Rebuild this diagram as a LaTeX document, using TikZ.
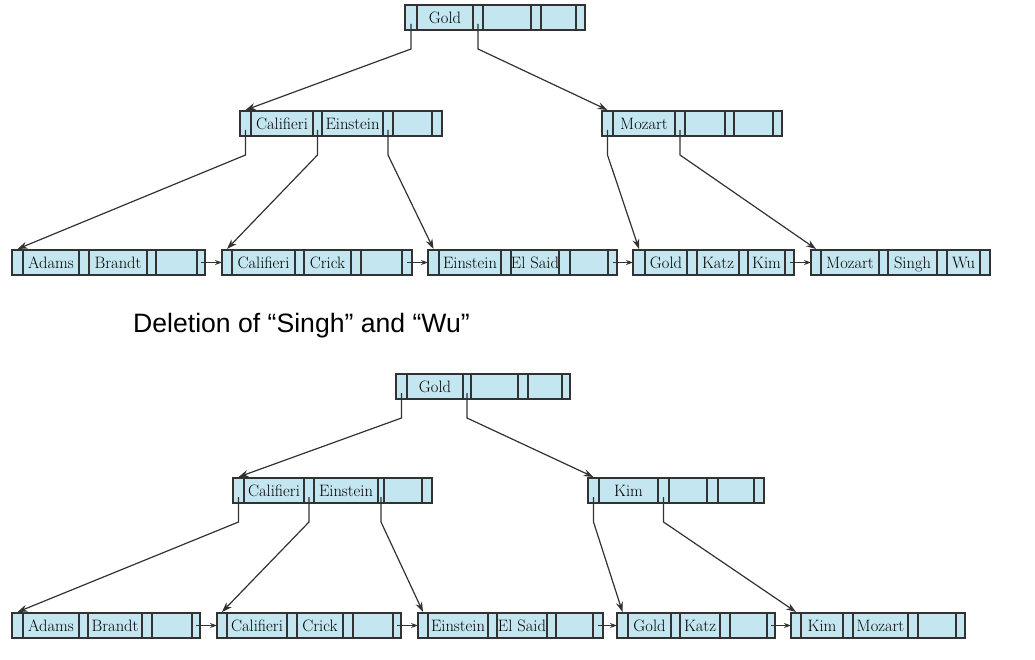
\documentclass[tikz,border=0pt]{standalone}
\usepackage{fontspec}
\newfontfamily\labelsans{Liberation Sans}
\usetikzlibrary{arrows.meta}
\definecolor{cellblue}{RGB}{196,230,240}
\definecolor{edgegray}{RGB}{50,50,50}
\tikzset{
  cell/.style={draw=edgegray, fill=cellblue, line width=1.2pt, minimum height=25pt,
    inner sep=0pt, outer sep=0pt, text height=12.5pt, text depth=1pt,
    font=\fontsize{16.5}{19}\selectfont},
  treeptr/.style={draw=edgegray, line width=1.2pt, -{Stealth[length=10pt,width=7pt]}},
  chainptr/.style={draw=edgegray, line width=1.1pt, -{Stealth[length=7pt,width=5pt]}},
}
\newcommand\bnode[3]{%
  \foreach \w/\t [count=\i] in {#3} {%
    \ifnum\i=1
      \node[cell, minimum width=\w pt, anchor=north west] (#1-\i) at (#2) {\makebox[0pt]{\t}};
    \else
      \pgfmathtruncatemacro\j{\i-1}%
      \node[cell, minimum width=\w pt, anchor=west] (#1-\i) at (#1-\j.east) {\makebox[0pt]{\t}};
    \fi
  }}
\newcommand\tptr[2]{\draw[treeptr] ([yshift=6pt]#1.south) -- ([yshift=-19pt]#1.south) -- ([yshift=1pt]#2.north);}
\newcommand\cptr[2]{\draw[chainptr] (#1.center) -- (#2.west);}
\begin{document}
\begin{tikzpicture}[x=1pt,y=-1pt]
\useasboundingbox (0,0) rectangle (1035,660);
% ---------- top tree ----------
\bnode{tr}{405,5}{12/{},56/Gold,10/{},48/{},10/{},35/{},9/{}}
\bnode{ta}{240,111}{11/{},62/Califieri,9/{},61/Einstein,10/{},39/{},10/{}}
\bnode{tb}{602,111}{11/{},62/Mozart,10/{},40/{},9/{},39/{},9/{}}
\bnode{la}{12,250}{11/{},56/Adams,10/{},58/Brandt,9/{},41/{},8/{}}
\bnode{lb}{222,250}{10/{},63/Califieri,9/{},47/Crick,10/{},41/{},10/{}}
\bnode{lc}{428,250}{11/{},62/Einstein,10/{},48/El Said,11/{},38/{},9/{}}
\bnode{ld}{633,250}{12/{},42/Gold,10/{},42/Katz,9/{},37/Kim,9/{}}
\bnode{le}{811,250}{10/{},58/Mozart,9/{},49/Singh,10/{},33/Wu,10/{}}
\tptr{tr-1}{ta-1}
\tptr{tr-3}{tb-1}
\tptr{ta-1}{la-1}
\tptr{ta-3}{lb-1}
\tptr{ta-5}{lc-1}
\tptr{tb-1}{ld-1}
\tptr{tb-3}{le-1}
\cptr{la-7}{lb-1}
\cptr{lb-7}{lc-1}
\cptr{lc-7}{ld-1}
\cptr{ld-7}{le-1}
% ---------- caption ----------
\node[anchor=base west, inner sep=0pt, font=\labelsans\fontsize{26.6}{30}\selectfont] (cap) at (133,332) {Deletion of “Singh” and “Wu”};
% ---------- bottom tree ----------
\bnode{br}{396,374}{11/{},56/Gold,8/{},47/{},10/{},34/{},8/{}}
\bnode{ba}{233,478}{11/{},60/Califieri,10/{},64/Einstein,6/{},38/{},10/{}}
\bnode{bb}{588,478}{11/{},59/Kim,11/{},38/{},11/{},36/{},10/{}}
\bnode{ma}{12,613}{11/{},56/Adams,9/{},54/Brandt,10/{},40/{},8/{}}
\bnode{mb}{217,613}{10/{},60/Califieri,10/{},46/Crick,10/{},40/{},8/{}}
\bnode{mc}{418,613}{10/{},60/Einstein,9/{},50/El Said,9/{},37/{},10/{}}
\bnode{md}{617,613}{11/{},43/Gold,9/{},40/Katz,10/{},37/{},8/{}}
\bnode{me}{791,613}{10/{},42/Kim,10/{},55/Mozart,10/{},38/{},9/{}}
\tptr{br-1}{ba-1}
\tptr{br-3}{bb-1}
\tptr{ba-1}{ma-1}
\tptr{ba-3}{mb-1}
\tptr{ba-5}{mc-1}
\tptr{bb-1}{md-1}
\tptr{bb-3}{me-1}
\cptr{ma-7}{mb-1}
\cptr{mb-7}{mc-1}
\cptr{mc-7}{md-1}
\cptr{md-7}{me-1}
\end{tikzpicture}
\end{document}
